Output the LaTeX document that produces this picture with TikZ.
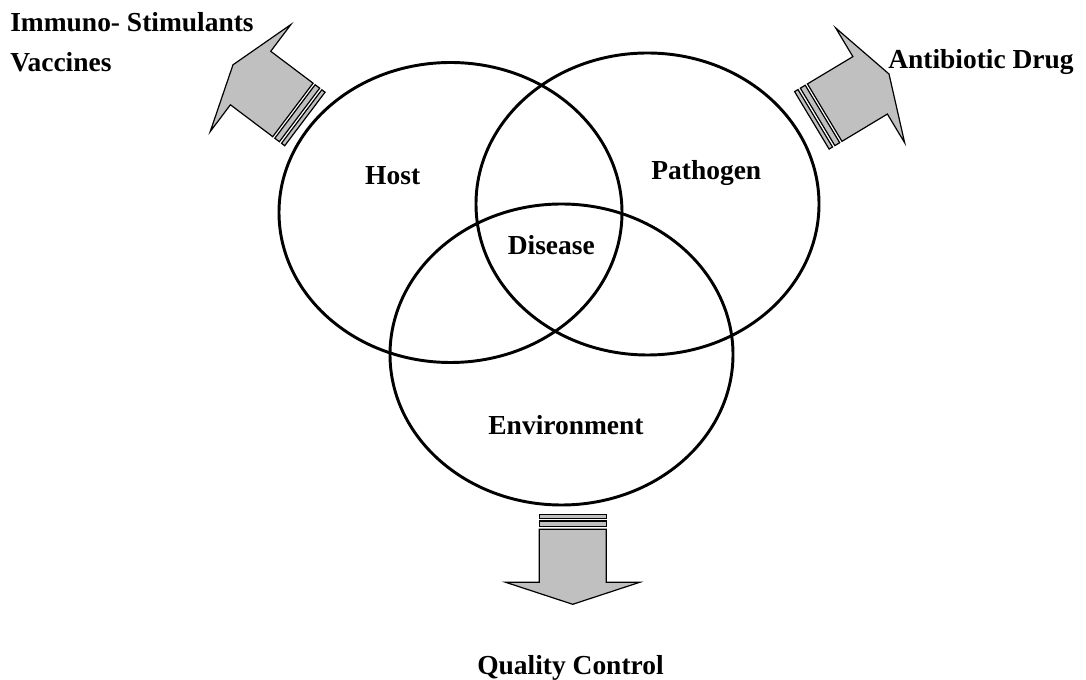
\documentclass[tikz,border=0pt]{standalone}
\usepackage{fontspec}
\setmainfont{Liberation Serif}
\begin{document}
\begin{tikzpicture}[x=0.75pt,y=-0.75pt,
  ring/.style={draw=black,line width=2.2pt},
  lbl/.style={inner sep=0pt,font=\fontsize{20.6}{24}\selectfont\bfseries},
  arrowbody/.style={draw=black,fill=arrowgray,line width=0.9pt,line join=miter},
  pics/fatarrow/.style={code={
    \draw[arrowbody] (0,0) -- (-22,67) -- (-22,33.5) -- (-75,33.5) -- (-75,-33.5) -- (-22,-33.5) -- (-22,-67) -- cycle;
    \draw[arrowbody] (-77.6,-33.5) rectangle (-83.3,33.5);
    \draw[arrowbody] (-86,-33.5) rectangle (-90,33.5);
  }}]
\definecolor{arrowgray}{HTML}{C0C0C0}
\useasboundingbox (0,0) rectangle (1086,680);

% arrows
\pic[rotate=143] at (233,64.8) {fatarrow};
\pic[rotate=31] at (889,74) {fatarrow};
\pic[rotate=-90] at (572.7,604.3) {fatarrow};

% circles
\coordinate (hostc) at (450.5,212.5);
\coordinate (pathc) at (647.5,204);
\coordinate (envc) at (561.5,354.5);
\draw[ring] (hostc) ellipse [x radius=171.5, y radius=150];
\draw[ring] (pathc) ellipse [x radius=171.5, y radius=151];
\draw[ring] (envc) ellipse [x radius=171.5, y radius=150.5];

% labels
\node[lbl,anchor=base] (host) at (392.7,185) {Host};
\node[lbl,anchor=base] (pathogen) at (706.3,180) {Pathogen};
\node[lbl,anchor=base] (disease) at (551.3,255) {Disease};
\node[lbl,anchor=base] (environment) at (566,435) {Environment};
\node[lbl,anchor=base] (qc) at (570.5,675) {Quality Control};
\node[lbl,anchor=base west] (immuno) at (10,31.5) {Immuno- Stimulants};
\node[lbl,anchor=base west] (vacc) at (10,71.7) {Vaccines};
\node[lbl,anchor=base west] (anti) at (888,68.3) {Antibiotic Drug};
\end{tikzpicture}
\end{document}
